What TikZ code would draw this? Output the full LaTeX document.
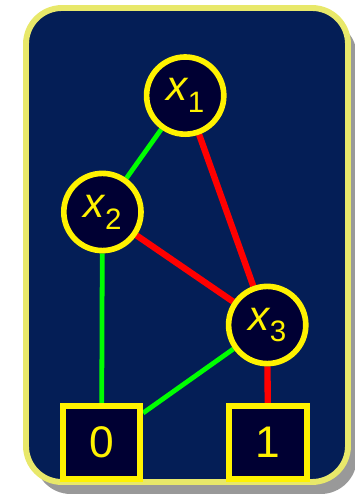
\documentclass[tikz,border=0pt]{standalone}
\usepackage{fontspec}
\setmainfont{Liberation Sans}
\usetikzlibrary{backgrounds}

\definecolor{navy}{HTML}{041E56}
\definecolor{nodefill}{HTML}{000033}
\definecolor{paleyellow}{HTML}{E8E86A}
\definecolor{brightgreen}{HTML}{00FF00}

\newcommand{\xvar}[1]{{\fontsize{30}{32}\selectfont\itshape x}\kern0.5pt\raisebox{-8.5pt}{\fontsize{21}{23}\selectfont #1}}

\tikzset{
  varnode/.style={circle, draw=yellow, fill=nodefill, line width=4pt,
    minimum size=1.93cm, inner sep=0pt, text=yellow},
  termnode/.style={rectangle, draw=yellow, fill=nodefill, line width=4.2pt,
    minimum width=1.93cm, minimum height=1.83cm, inner sep=0pt, text=yellow,
    font=\fontsize{31.5}{34}\selectfont},
  hiedge/.style={brightgreen, line width=3.4pt},
  loedge/.style={red, line width=4.5pt}
}

\begin{document}
\begin{tikzpicture}
	
	\useasboundingbox (0,0) rectangle (8.85,12.45);
	
	% Define the nodes
	\node[varnode] (x1) at (4.63, 10.06) {\xvar{1}};
	\node[varnode] (x2) at (2.56, 7.15) {\xvar{2}};
	\node[varnode] (x3) at (6.68, 4.325) {\xvar{3}};
	\node[termnode] (t0) at (2.54, 1.39) {0};
	\node[termnode] (t1) at (6.7, 1.39) {1};
	
	\begin{scope}[on background layer]
		% Draw the frame with its shadow
		\fill[gray!80, rounded corners=0.9cm] (0.87, 0.1) rectangle (8.92, 11.95);
		\draw[paleyellow, fill=navy, line width=4.2pt, rounded corners=0.9cm]
			(0.65, 0.4) rectangle (8.7, 12.25);
		
		% Draw the high edges in green
		\draw[hiedge] (x1) -- (x2);
		\draw[hiedge] (x2) -- (t0);
		\draw[hiedge] (x3) -- (t0);
		
		% Draw the low edges in red
		\draw[loedge] (x1) -- (x3);
		\draw[loedge] (x2) -- (x3);
		\draw[loedge] (x3) -- (t1);
	\end{scope}
	
\end{tikzpicture}
\end{document}
